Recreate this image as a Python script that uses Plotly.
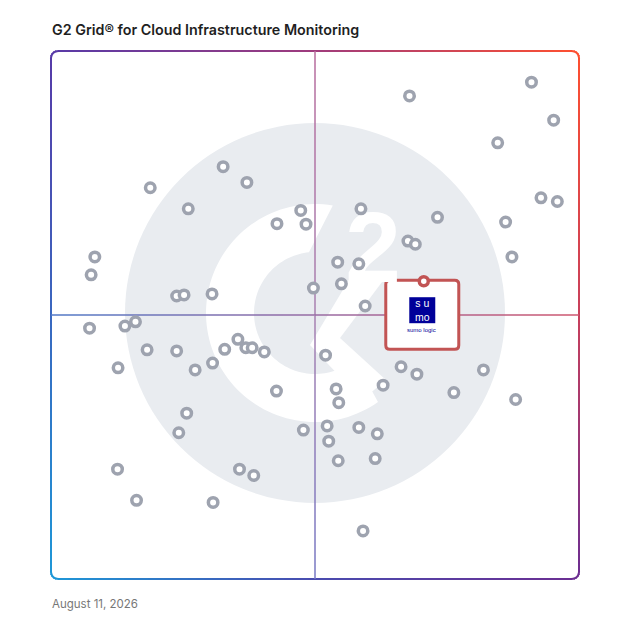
import numpy as np
import plotly.graph_objects as go

# Puntuaciones (satisfaccion = x, presencia en el mercado = y), escala 0-100
satisfaction = [32.6, 37.1, 18.8, 26.0, 47.3, 42.8, 48.3, 8.3, 7.6, 23.8, 25.2, 30.5, 49.7,
                91.0, 67.9, 95.2, 84.6, 92.8, 95.9, 86.1, 73.2, 58.7, 67.6, 69.0, 87.3, 54.3,
                58.3, 55.0, 59.5, 7.3, 14.0, 16.0, 18.2, 23.8, 12.7, 27.3, 30.6, 32.9, 35.4,
                36.9, 38.1, 40.4, 42.7, 25.7, 24.2, 47.8, 12.6, 35.7, 38.4, 16.2, 30.7, 52.0,
                66.3, 69.3, 81.9, 62.9, 76.3, 88.0, 54.0, 54.5, 52.3, 58.3, 61.8, 52.6, 54.4,
                61.4, 59.1]
market_presence = [78.1, 75.1, 74.1, 70.1, 69.8, 67.3, 67.2, 61.0, 57.6, 53.6, 53.8, 54.0, 55.1,
                   94.1, 91.5, 86.9, 82.6, 72.2, 71.5, 67.6, 68.5, 70.1, 64.0, 63.4, 61.0, 60.0,
                   59.7, 55.9, 51.7, 47.5, 47.9, 48.7, 43.4, 43.2, 40.0, 39.6, 40.9, 43.5, 45.4,
                   43.8, 43.8, 43.0, 35.6, 31.4, 27.7, 28.2, 20.8, 20.8, 19.6, 14.9, 14.5, 42.4,
                   40.2, 38.8, 39.6, 36.7, 35.3, 34.0, 36.0, 33.4, 29.0, 28.7, 27.5, 26.1, 22.4,
                   22.8, 9.1]

highlight_name = "sumo logic"
highlight_x = 70.6
highlight_y = 56.4

title_text = "G2 Grid® for Cloud Infrastructure Monitoring"
date_text = "August 11, 2026"

# escala de pixeles: el area 0-100 ocupa 528 px (51..579 en la pagina)
PX = 5.28
RNG = [-10 / PX, 100 + 10 / PX]


def dxp(v):
    return (v - 51) / PX


def dyp(v):
    return (579 - v) / PX


def paper_x(v):
    return (dxp(v) - RNG[0]) / (RNG[1] - RNG[0])


def paper_y(v):
    return (dyp(v) - RNG[0]) / (RNG[1] - RNG[0])


# colores del borde en degradado (rejilla 3x3)
grid = np.array([
    [[88, 58, 168], [160, 60, 125], [255, 80, 48]],
    [[58, 104, 192], [138, 88, 152], [200, 64, 92]],
    [[30, 152, 216], [74, 76, 176], [108, 46, 146]],
], dtype=float)


def grad_color(px, py, light=0.0):
    u = min(max((px - 51) / 528 * 2, 0), 2)
    v = min(max((py - 51) / 528 * 2, 0), 2)
    i0, j0 = min(int(v), 1), min(int(u), 1)
    fv, fu = v - i0, u - j0
    c = (grid[i0, j0] * (1 - fu) * (1 - fv) + grid[i0, j0 + 1] * fu * (1 - fv)
         + grid[i0 + 1, j0] * (1 - fu) * fv + grid[i0 + 1, j0 + 1] * fu * fv)
    c = c * (1 - light) + 255 * light
    return "rgb(%d,%d,%d)" % tuple(c.astype(int))


def seg(p, q, color, width, ext=0.0):
    L = np.hypot(q[0] - p[0], q[1] - p[1])
    ex, ey = (q[0] - p[0]) / L * ext, (q[1] - p[1]) / L * ext
    return dict(type="line", xref="x", yref="y", layer="below",
                x0=dxp(p[0] - ex), y0=dyp(p[1] - ey), x1=dxp(q[0] + ex), y1=dyp(q[1] + ey),
                line=dict(color=color, width=width))


shapes = []

# marca de agua G2
cx, cy = 315, 313
shapes.append(dict(type="circle", xref="x", yref="y", layer="below",
                   x0=dxp(cx - 190), x1=dxp(cx + 190), y0=dyp(cy + 190), y1=dyp(cy - 190),
                   fillcolor="#e9ecf0", line=dict(width=0)))


def poly_path(pts):
    s = "M " + " L ".join("%.3f,%.3f" % (dxp(a), dyp(b)) for a, b in pts)
    return s + " Z"


outer = [(cx + 109 * np.cos(np.radians(a)), cy - 109 * np.sin(np.radians(a)))
         for a in np.linspace(80.6, 305.3, 90)]
inner = [(cx + 61 * np.cos(np.radians(a)), cy - 61 * np.sin(np.radians(a)))
         for a in np.linspace(310.6, 95.7, 90)]
shapes.append(dict(type="path", xref="x", yref="y", layer="below",
                   path=poly_path(outer + inner), fillcolor="white", line=dict(width=0)))
chevron = [(350, 278), (310, 345), (362, 400), (386, 380), (340, 338), (385, 278)]
shapes.append(dict(type="path", xref="x", yref="y", layer="below",
                   path=poly_path(chevron), fillcolor="white", line=dict(width=0)))

# borde redondeado con degradado
r = 7
edges = [((51 + r, 51), (579 - r, 51)), ((579, 51 + r), (579, 579 - r)),
         ((579 - r, 579), (51 + r, 579)), ((51, 579 - r), (51, 51 + r))]
for p, q in edges:
    L = int(round(abs(q[0] - p[0]) + abs(q[1] - p[1])))
    steps = list(range(0, L, 8)) + [L]
    for a, b in zip(steps[:-1], steps[1:]):
        pa = (p[0] + (q[0] - p[0]) * a / L, p[1] + (q[1] - p[1]) * a / L)
        pb = (p[0] + (q[0] - p[0]) * b / L, p[1] + (q[1] - p[1]) * b / L)
        shapes.append(seg(pa, pb, grad_color((pa[0] + pb[0]) / 2, (pa[1] + pb[1]) / 2), 2))
corners = [(579 - r, 51 + r, -90, 0), (579 - r, 579 - r, 0, 90),
           (51 + r, 579 - r, 90, 180), (51 + r, 51 + r, 180, 270)]
for ccx, ccy, a0, a1 in corners:
    arc = [(ccx + r * np.cos(np.radians(a)), ccy + r * np.sin(np.radians(a)))
           for a in np.linspace(a0, a1, 6)]
    for p, q in zip(arc[:-1], arc[1:]):
        shapes.append(seg(p, q, grad_color((p[0] + q[0]) / 2, (p[1] + q[1]) / 2), 2, 0.6))

# lineas de cuadrante
for k in range(51, 579, 8):
    k2 = min(k + 8, 579)
    shapes.append(seg((315, k), (315, k2), grad_color(315, (k + k2) / 2, 0.25), 1.5))
    shapes.append(seg((k, 315), (k2, 315), grad_color((k + k2) / 2, 315, 0.12), 1.5))

# caja del producto destacado
bx0, bx1 = highlight_x - 38 / PX, highlight_x + 35 / PX
byt, byb = highlight_y + 1 / PX, highlight_y - 68 / PX
rr = 4 / PX
box_path = ("M %f,%f L %f,%f Q %f,%f %f,%f L %f,%f Q %f,%f %f,%f L %f,%f Q %f,%f %f,%f "
            "L %f,%f Q %f,%f %f,%f Z") % (
    bx0 + rr, byt, bx1 - rr, byt, bx1, byt, bx1, byt - rr, bx1, byb + rr, bx1, byb, bx1 - rr, byb,
    bx0 + rr, byb, bx0, byb, bx0, byb + rr, bx0, byt - rr, bx0, byt, bx0 + rr, byt)
shapes.append(dict(type="path", xref="x", yref="y", layer="below", path=box_path,
                   fillcolor="white", line=dict(color="#c25454", width=3)))
lc = highlight_y - 29 / PX
shapes.append(dict(type="rect", xref="x", yref="y", layer="below",
                   x0=highlight_x - 14.5 / PX, x1=highlight_x + 11.5 / PX,
                   y0=lc - 13 / PX, y1=lc + 13 / PX, fillcolor="#000099", line=dict(width=0)))

fig = go.Figure()
# "2" del logo G2
fig.add_trace(go.Scatter(x=[dxp(373)], y=[dyp(257)], mode="text", text=["2"],
                         textfont=dict(family="Liberation Sans", size=100, color="white", weight="bold"),
                         hoverinfo="skip"))
fig.add_trace(go.Scatter(x=satisfaction, y=market_presence, mode="markers",
                         marker=dict(size=9.5, color="white", line=dict(color="#9ea3af", width=3.5))))
fig.add_trace(go.Scatter(x=[highlight_x], y=[highlight_y], mode="markers", name=highlight_name,
                         marker=dict(size=9, color="white", line=dict(color="#c25454", width=3.5))))

annotations = [
    dict(xref="paper", yref="paper", x=paper_x(50), y=paper_y(29), text=title_text,
         showarrow=False, xanchor="left", yanchor="middle",
         font=dict(family="Inter", size=14.3, color="#1f1f1f", weight=600)),
    dict(xref="paper", yref="paper", x=paper_x(50), y=paper_y(604), text=date_text,
         showarrow=False, xanchor="left", yanchor="middle",
         font=dict(family="Inter", size=11.5, color="#777777")),
    dict(x=highlight_x - 1.5 / PX, y=lc, text="s u<br>mo", showarrow=False,
         font=dict(family="Liberation Sans", size=10.5, color="white")),
    dict(x=highlight_x - 2 / PX, y=highlight_y - 49 / PX, text=highlight_name, showarrow=False,
         font=dict(family="Liberation Sans", size=6, color="#000099")),
]

# la pagina deja 8 px de margen, por eso 620 x 620
fig.update_layout(
    width=620, height=620,
    margin=dict(l=33, r=39, t=33, b=39),
    paper_bgcolor="white", plot_bgcolor="white",
    showlegend=False,
    shapes=shapes, annotations=annotations,
    xaxis=dict(range=RNG, visible=False, fixedrange=True),
    yaxis=dict(range=RNG, visible=False, fixedrange=True),
)

fig.write_html("out.html")
